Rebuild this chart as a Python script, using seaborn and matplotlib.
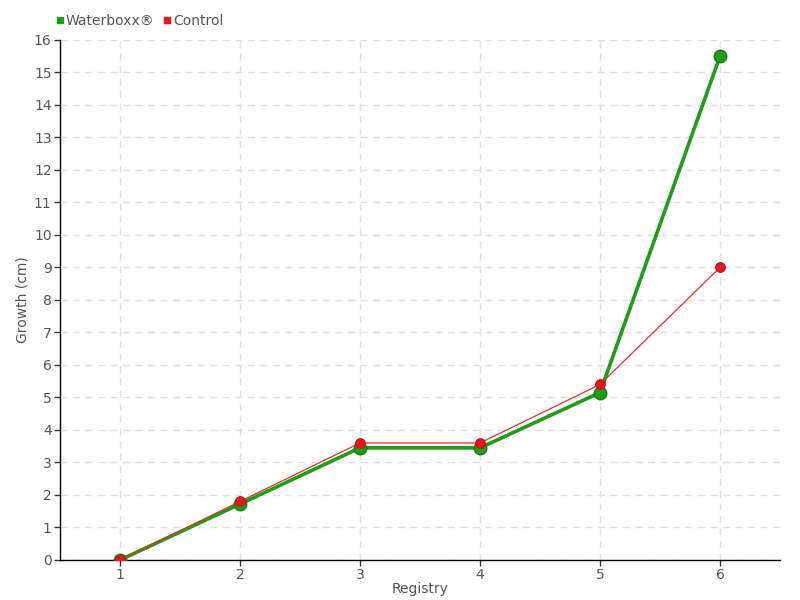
import matplotlib
matplotlib.use("Agg")
import matplotlib.pyplot as plt
import seaborn as sns
import pandas as pd
from matplotlib.lines import Line2D

registry = [1, 2, 3, 4, 5, 6]
waterboxx = [0, 1.72, 3.45, 3.45, 5.15, 15.5]
control = [0, 1.8, 3.6, 3.6, 5.4, 9.0]

sns.set_style("white")
plt.rcParams['font.family'] = ['DejaVu Sans']

df = pd.DataFrame({"Registry": registry * 2,
                   "Growth": waterboxx + control,
                   "Series": ["Waterboxx®"] * 6 + ["Control"] * 6})

fig = plt.figure(figsize=(8, 6), dpi=100)
ax = fig.add_axes([0.075, 0.0667, 0.9, 0.8667])

sns.lineplot(data=df[df.Series == "Waterboxx®"], x="Registry", y="Growth", ax=ax,
             color="#1e9e14", linewidth=2.6, marker="o", markersize=9,
             markeredgecolor="#1a7a12", markeredgewidth=1, legend=False, zorder=3)
sns.lineplot(data=df[df.Series == "Control"], x="Registry", y="Growth", ax=ax,
             color="#ee2a2a", linewidth=0.9, marker="o", markersize=7,
             markerfacecolor="#e8141e", markeredgecolor="#c01018", legend=False, zorder=4)

ax.set_xlim(0.5, 6.5)
ax.set_ylim(0, 16)
ax.set_xticks(registry)
ax.set_yticks(range(0, 17))
ax.grid(True, color="#e0e0e0", linestyle=(0, (5, 4)), linewidth=1)
for s in ["top", "right"]:
    ax.spines[s].set_visible(False)
for s in ["left", "bottom"]:
    ax.spines[s].set_color("black")
    ax.spines[s].set_linewidth(1)
ax.tick_params(axis="both", labelcolor="#555555", color="#333333", labelsize=10,
               length=4, width=1, direction="out", left=True, bottom=True, pad=2)
ax.set_xlabel("Registry", color="#555555", fontsize=10, labelpad=0)
ax.set_ylabel("Growth (cm)", color="#555555", fontsize=10, labelpad=3)

handles = [Line2D([], [], marker="s", color="none", markerfacecolor="#1e9e14",
                  markeredgecolor="#1e9e14", markersize=5),
           Line2D([], [], marker="s", color="none", markerfacecolor="#e8141e",
                  markeredgecolor="#e8141e", markersize=5)]
fig.legend(handles, ["Waterboxx®", "Control"], loc="upper left",
           bbox_to_anchor=(0.052, 0.997), ncol=2, frameon=False, fontsize=10,
           handletextpad=0.05, columnspacing=0.5, handlelength=0.8,
           labelcolor="#555555")

fig.savefig("out.png", dpi=100)
